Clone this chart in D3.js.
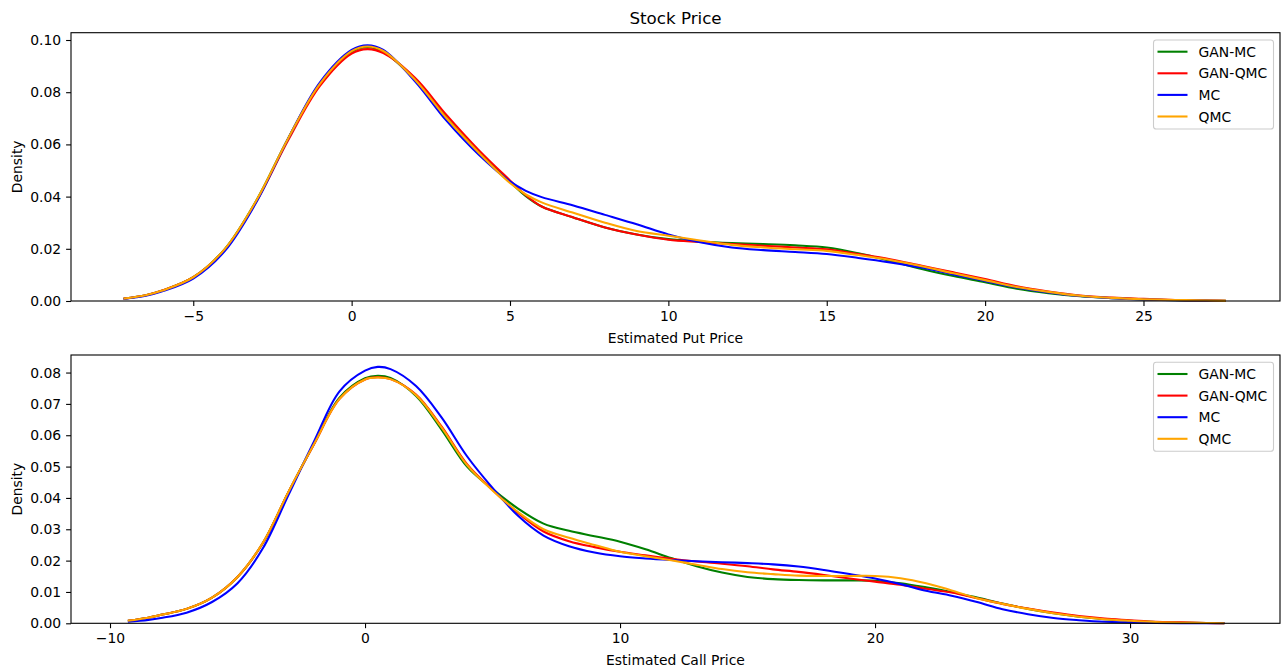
<!DOCTYPE html>
<html><head><meta charset="utf-8">
<script src="https://cdn.jsdelivr.net/npm/d3@7"></script>
<style>
body{margin:0;background:#fff;}
text{font-family:"DejaVu Sans",sans-serif;fill:#000;}
</style></head>
<body><svg id="c" width="1288" height="672"></svg>
<script>
const seriesNames = ["GAN-MC","GAN-QMC","MC","QMC"];
const seriesColors = ["green","red","blue","orange"];

const putX = [-7.2,-6.5,-6,-5,-4,-3,-2,-1,0,0.5,1,2,3,4,5,5.5,6,7,8,9,10,11,12,13,14,15,16,17,18,19,20,21,22,23,24,25,26,27,27.6];
const putGanMc = [0.0009,0.0022,0.0039,0.0091,0.0200,0.0387,0.0624,0.0832,0.0955,0.0972,0.0955,0.0848,0.0702,0.0572,0.0457,0.0402,0.0362,0.0320,0.0282,0.0255,0.0237,0.0228,0.0222,0.0218,0.0213,0.0205,0.0183,0.0154,0.0123,0.0096,0.0072,0.0047,0.0030,0.0018,0.0011,0.0006,0.0003,0.00015,0.00005];
const putGanQmc = [0.0009,0.0022,0.0039,0.0091,0.0198,0.0383,0.0617,0.0824,0.0948,0.0965,0.0950,0.0855,0.0712,0.0580,0.0462,0.0405,0.0362,0.0320,0.0282,0.0255,0.0235,0.0226,0.0218,0.0212,0.0205,0.0198,0.0180,0.0160,0.0135,0.0110,0.0084,0.0056,0.0036,0.0021,0.0013,0.0008,0.0004,0.0002,0.00005];
const putMc = [0.0008,0.0020,0.0036,0.0086,0.0192,0.0380,0.0624,0.0838,0.0962,0.0980,0.0962,0.0842,0.0690,0.0562,0.0458,0.0422,0.0398,0.0366,0.0330,0.0294,0.0255,0.0225,0.0205,0.0195,0.0188,0.0180,0.0165,0.0148,0.0128,0.0102,0.0077,0.0052,0.0033,0.0019,0.0011,0.0006,0.0003,0.0001,0.00003];
const putQmc = [0.0009,0.0022,0.0039,0.0091,0.0200,0.0387,0.0624,0.0832,0.0957,0.0975,0.0958,0.0848,0.0700,0.0570,0.0452,0.0408,0.0378,0.0338,0.0300,0.0268,0.0250,0.0232,0.0215,0.0205,0.0198,0.0192,0.0176,0.0157,0.0133,0.0106,0.0080,0.0054,0.0035,0.0020,0.0012,0.0007,0.0004,0.0002,0.00005];

const callX = [-9.3,-8.5,-8,-7,-6,-5,-4,-3,-2,-1,0,0.5,1,2,3,4,5,6,7,8,9,10,11,12,13,14,15,16,17,18,19,20,21,22,23,24,25,26,27,28,29,30,31,32,33,33.7];
const callGanMc = [0.0008,0.0018,0.0027,0.0046,0.0082,0.0148,0.0257,0.0419,0.0573,0.0720,0.0782,0.0790,0.0783,0.0725,0.0618,0.0500,0.0428,0.0366,0.0318,0.0295,0.0278,0.0260,0.0236,0.0208,0.0182,0.0162,0.0148,0.0141,0.0138,0.0137,0.0137,0.0136,0.0128,0.0115,0.0100,0.0082,0.0063,0.0046,0.0032,0.0021,0.0013,0.0008,0.0004,0.0002,0.0001,0.00003];
const callGanQmc = [0.0008,0.0018,0.0027,0.0046,0.0082,0.0148,0.0257,0.0419,0.0571,0.0716,0.0778,0.0785,0.0779,0.0730,0.0628,0.0508,0.0426,0.0352,0.0293,0.0262,0.0243,0.0228,0.0217,0.0206,0.0197,0.0190,0.0182,0.0172,0.0164,0.0154,0.0143,0.0133,0.0123,0.0110,0.0098,0.0080,0.0062,0.0047,0.0034,0.0023,0.0015,0.0010,0.0005,0.0003,0.0001,0.00003];
const callMc = [0.0005,0.0011,0.0017,0.0034,0.0068,0.0128,0.0240,0.0410,0.0580,0.0740,0.0806,0.0818,0.0811,0.0757,0.0657,0.0533,0.0432,0.0343,0.0280,0.0246,0.0226,0.0214,0.0207,0.0202,0.0198,0.0195,0.0192,0.0188,0.0181,0.0170,0.0157,0.0143,0.0125,0.0104,0.0088,0.0068,0.0045,0.0029,0.0017,0.0010,0.0005,0.0003,0.0001,0.00005,0.00002,0.00001];
const callQmc = [0.0008,0.0018,0.0027,0.0046,0.0082,0.0148,0.0258,0.0420,0.0572,0.0716,0.0778,0.0784,0.0779,0.0728,0.0625,0.0505,0.0424,0.0355,0.0300,0.0273,0.0250,0.0228,0.0214,0.0201,0.0187,0.0173,0.0163,0.0157,0.0152,0.0151,0.0151,0.0151,0.0144,0.0128,0.0105,0.0080,0.0062,0.0046,0.0032,0.0021,0.0013,0.0008,0.0004,0.0002,0.0001,0.00003];

const putXTicks = [-5,0,5,10,15,20,25];
const putYTicks = [0,0.02,0.04,0.06,0.08,0.10];
const callXTicks = [-10,0,10,20,30];
const callYTicks = [0,0.01,0.02,0.03,0.04,0.05,0.06,0.07,0.08];

const svg = d3.select("#c");
const FS = 13.9;

svg.append("text").attr("x",675.5).attr("y",24.2).attr("text-anchor","middle")
  .style("font-size","16.7px").text("Stock Price");

function panel(cfg){
  const g = svg.append("g");
  const x = d3.scaleLinear().domain(cfg.xDomain).range([71,1280]);
  const y = d3.scaleLinear().domain(cfg.yDomain).range([cfg.bottom,cfg.top]);
  const ln = d3.line().x(d=>x(d[0])).y(d=>y(d[1])).curve(d3.curveCatmullRom.alpha(0.5));
  cfg.series.forEach((s,i)=>{
    g.append("path").datum(cfg.xs.map((v,j)=>[v,s[j]]))
      .attr("d",ln).attr("fill","none").attr("stroke",seriesColors[i])
      .attr("stroke-width",2.08).attr("stroke-linejoin","round").attr("stroke-linecap","butt");
  });
  const xa = g.append("g").attr("transform",`translate(0,${cfg.bottom})`)
    .call(d3.axisBottom(x).tickValues(cfg.xTicks).tickFormat(d3.format("d")).tickSize(4.9).tickPadding(4.9).tickSizeOuter(0));
  const ya = g.append("g").attr("transform",`translate(71,0)`)
    .call(d3.axisLeft(y).tickValues(cfg.yTicks).tickFormat(d3.format(".2f")).tickSize(4.9).tickPadding(4.9).tickSizeOuter(0));
  [xa,ya].forEach(a=>{
    a.select(".domain").remove();
    a.selectAll(".tick line").attr("stroke","#000").attr("stroke-width",1.1);
    a.selectAll(".tick text").style("font-size",FS+"px").style("font-family","DejaVu Sans").attr("fill","#000");
  });
  g.append("rect").attr("x",71).attr("y",cfg.top).attr("width",1209).attr("height",cfg.bottom-cfg.top)
    .attr("fill","none").attr("stroke","#000").attr("stroke-width",1.1);
  g.append("text").attr("x",675.5).attr("y",cfg.bottom+41.5).attr("text-anchor","middle")
    .style("font-size",FS+"px").text(cfg.xLabel);
  g.append("text").attr("transform",`translate(21.5,${(cfg.top+cfg.bottom)/2}) rotate(-90)`)
    .attr("text-anchor","middle").style("font-size",FS+"px").text("Density");
  const lt = cfg.top+7.3;
  const lg = g.append("g");
  lg.append("rect").attr("x",1153.5).attr("y",lt).attr("width",120).attr("height",89)
    .attr("rx",2.8).attr("fill","#fff").attr("fill-opacity",0.8).attr("stroke","#cccccc").attr("stroke-width",1.1);
  seriesNames.forEach((n,i)=>{
    const yy = lt+11.7+i*21.6;
    lg.append("line").attr("x1",1157.5).attr("x2",1187.5).attr("y1",yy).attr("y2",yy)
      .attr("stroke",seriesColors[i]).attr("stroke-width",2.08);
    lg.append("text").attr("x",1198.5).attr("y",yy+5).style("font-size",FS+"px").text(n);
  });
}

panel({xs:putX, series:[putGanMc,putGanQmc,putMc,putQmc], xDomain:[-8.86,29.31], yDomain:[0,0.1028],
  top:32.7, bottom:301, xTicks:putXTicks, yTicks:putYTicks, xLabel:"Estimated Put Price"});
panel({xs:callX, series:[callGanMc,callGanQmc,callMc,callQmc], xDomain:[-11.53,35.88], yDomain:[0,0.0856],
  top:355, bottom:623.3, xTicks:callXTicks, yTicks:callYTicks, xLabel:"Estimated Call Price"});
</script></body></html>
